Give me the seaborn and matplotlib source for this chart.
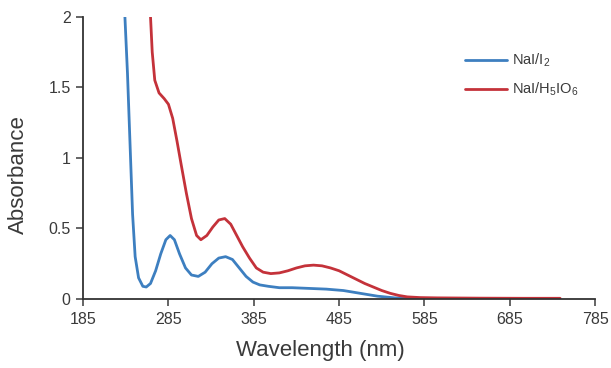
import numpy as np
import pandas as pd
import matplotlib
matplotlib.use("Agg")
import matplotlib.pyplot as plt
import seaborn as sns

# Data
blue_wl = [234, 237, 240, 243, 246, 250, 255, 259, 264, 270, 276, 282, 287, 292, 298,
           305, 312, 320, 328, 336, 344, 352, 360, 368, 376, 384, 392, 402, 415, 430,
           450, 470, 490, 510, 530, 550, 570, 585]
blue_abs = [2.0, 1.6, 1.1, 0.6, 0.3, 0.15, 0.09, 0.085, 0.11, 0.2, 0.32, 0.42, 0.45, 0.42, 0.32,
            0.22, 0.17, 0.16, 0.19, 0.25, 0.29, 0.30, 0.28, 0.22, 0.16, 0.12, 0.10, 0.09, 0.08, 0.08,
            0.075, 0.07, 0.06, 0.04, 0.02, 0.008, 0.003, 0.0]

red_wl = [264, 266, 269, 274, 280, 285, 290, 295, 300, 306, 312, 318, 323, 330, 337,
          344, 351, 358, 365, 372, 380, 388, 396, 405, 415, 425, 435, 445, 455, 465,
          475, 485, 495, 505, 515, 525, 535, 545, 555, 565, 580, 600, 650, 700, 744]
red_abs = [2.0, 1.75, 1.55, 1.46, 1.42, 1.38, 1.28, 1.12, 0.95, 0.75, 0.57, 0.45, 0.42, 0.45, 0.51,
           0.56, 0.57, 0.53, 0.45, 0.37, 0.29, 0.22, 0.19, 0.18, 0.185, 0.20, 0.22, 0.235, 0.24, 0.235,
           0.22, 0.20, 0.17, 0.14, 0.11, 0.085, 0.06, 0.04, 0.025, 0.015, 0.01, 0.008, 0.006, 0.005, 0.005]

labels = ["NaI/I$_2$", "NaI/H$_5$IO$_6$"]
x_ticks = [185, 285, 385, 485, 585, 685, 785]
y_ticks = [0, 0.5, 1, 1.5, 2]
y_tick_labels = ["0", "0.5", "1", "1.5", "2"]

df = pd.concat([
    pd.DataFrame({"Wavelength": blue_wl, "Absorbance": blue_abs, "Sample": labels[0]}),
    pd.DataFrame({"Wavelength": red_wl, "Absorbance": red_abs, "Sample": labels[1]}),
], ignore_index=True)

sns.set_style("ticks")
plt.rcParams["font.family"] = ["Liberation Sans", "DejaVu Sans"]
plt.rcParams["mathtext.default"] = "regular"

fig = plt.figure(figsize=(6.11, 3.68), dpi=100)
ax = fig.add_axes([0.136, 0.1875, 0.838, 0.767])

palette = {labels[0]: "#3d7fc0", labels[1]: "#c4323a"}
sns.lineplot(data=df, x="Wavelength", y="Absorbance", hue="Sample", palette=palette,
             linewidth=2.0, ax=ax, sort=False, estimator=None)

ax.set_xlim(185, 785)
ax.set_ylim(0, 2)
ax.set_xticks(x_ticks)
ax.set_yticks(y_ticks)
ax.set_yticklabels(y_tick_labels)
ax.tick_params(axis="both", labelsize=11.5, colors="#3a3a3a", length=5, width=1.1,
               direction="out", pad=4)
for s in ["top", "right"]:
    ax.spines[s].set_visible(False)
for s in ["left", "bottom"]:
    ax.spines[s].set_color("#333333")
    ax.spines[s].set_linewidth(1.3)
ax.set_xlabel("Wavelength (nm)", fontsize=16, color="#3a3a3a", va="center")
ax.set_ylabel("Absorbance", fontsize=16, color="#3a3a3a", va="center")
ax.xaxis.set_label_coords(0.463, -0.181)
ax.yaxis.set_label_coords(-0.127, 0.44)

leg = ax.legend(loc="upper left", bbox_to_anchor=(0.746, 0.876), frameon=False,
                fontsize=10.5, handlelength=2.9, labelspacing=0.8, handletextpad=0.35,
                borderpad=0, borderaxespad=0)
for t in leg.get_texts():
    t.set_color("#3a3a3a")

fig.savefig("out.png", dpi=100)
